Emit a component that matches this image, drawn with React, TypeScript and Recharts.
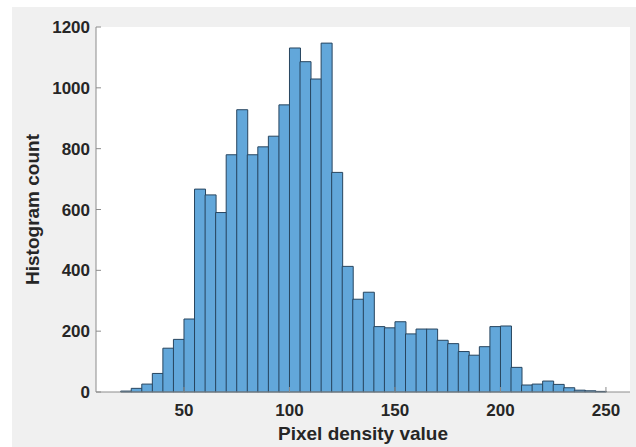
import React from 'react';
import { BarChart, Bar, XAxis, YAxis, Label } from 'recharts';

const binCenters = [
  22.5, 27.5, 32.5, 37.5, 42.5, 47.5, 52.5, 57.5, 62.5, 67.5,
  72.5, 77.5, 82.5, 87.5, 92.5, 97.5, 102.5, 107.5, 112.5, 117.5,
  122.5, 127.5, 132.5, 137.5, 142.5, 147.5, 152.5, 157.5, 162.5, 167.5,
  172.5, 177.5, 182.5, 187.5, 192.5, 197.5, 202.5, 207.5, 212.5, 217.5,
  222.5, 227.5, 232.5, 237.5, 242.5, 247.5,
];
const counts = [
  3, 12, 26, 61, 144, 173, 240, 667, 648, 590,
  780, 928, 780, 806, 841, 944, 1131, 1086, 1029, 1147,
  722, 413, 305, 328, 215, 211, 231, 191, 207, 207,
  170, 159, 133, 121, 149, 215, 217, 81, 23, 26,
  36, 25, 14, 6, 4, 2,
];
const xTicks = [50, 100, 150, 200, 250];
const yTicks = [0, 200, 400, 600, 800, 1000, 1200];

const data = binCenters.map((c, i) => ({ x: c, count: counts[i] }));

const FONT = '"Liberation Sans", Arial, Helvetica, sans-serif';
const TEXT = '#262626';
const AXIS = '#8c8c8c';

const BottomTick = (props: any) => {
  const { x, y, payload } = props;
  return (
    <g>
      <line x1={x} y1={y} x2={x} y2={y - 5} stroke={AXIS} strokeWidth={1} />
      <text x={x} y={y + 24} textAnchor="middle" fontFamily={FONT} fontWeight="bold" fontSize={17} fill={TEXT}>
        {payload.value}
      </text>
    </g>
  );
};
const TopTick = (props: any) => {
  const { x, y } = props;
  return <line x1={x} y1={y} x2={x} y2={y + 5} stroke={AXIS} strokeWidth={1} />;
};
const LeftTick = (props: any) => {
  const { x, y, payload } = props;
  return (
    <g>
      <line x1={x} y1={y} x2={x + 5} y2={y} stroke={AXIS} strokeWidth={1} />
      <text x={x - 6} y={y + 6} textAnchor="end" fontFamily={FONT} fontWeight="bold" fontSize={17} fill={TEXT}>
        {payload.value}
      </text>
    </g>
  );
};
const RightTick = (props: any) => {
  const { x, y } = props;
  return <line x1={x} y1={y} x2={x - 5} y2={y} stroke={AXIS} strokeWidth={1} />;
};

export default function App() {
  return (
    <div style={{ position: 'absolute', left: 0, top: 0, width: 636, height: 447, background: '#ffffff' }}>
      <div style={{ position: 'absolute', left: 12, top: 7, width: 624, height: 440, background: '#f0f0f0' }} />
      <div style={{ position: 'absolute', left: 0, top: 0 }}>
        <BarChart
          width={636}
          height={447}
          data={data}
          margin={{ top: 27, right: 6, bottom: 0, left: 0 }}
          barCategoryGap={0}
          barGap={0}
        >
          <rect x={96} y={27} width={534} height={365} fill="#ffffff" />
          <XAxis
            xAxisId="b"
            dataKey="x"
            type="number"
            domain={[8.3, 261.4]}
            ticks={xTicks}
            allowDataOverflow
            height={55}
            stroke={AXIS}
            tickLine={false}
            tickSize={0}
            tickMargin={0}
            tick={<BottomTick />}
            interval={0}
          >
            <Label
              content={(p: any) => {
                const vb = p.viewBox;
                return (
                  <text x={vb.x + vb.width / 2} y={vb.y + 48} textAnchor="middle" fontFamily={FONT} fontWeight="bold" fontSize={19} fill={TEXT}>
                    Pixel density value
                  </text>
                );
              }}
            />
          </XAxis>
          <XAxis
            xAxisId="t"
            dataKey="x"
            type="number"
            orientation="top"
            domain={[8.3, 261.4]}
            ticks={xTicks}
            allowDataOverflow
            height={0}
            stroke={AXIS}
            tickLine={false}
            tickSize={0}
            tickMargin={0}
            tick={<TopTick />}
            interval={0}
          />
          <YAxis
            yAxisId="l"
            type="number"
            domain={[0, 1200]}
            ticks={yTicks}
            width={96}
            stroke={AXIS}
            tickLine={false}
            tickSize={0}
            tickMargin={0}
            tick={<LeftTick />}
            interval={0}
          >
            <Label
              content={(p: any) => {
                const vb = p.viewBox;
                const cx = vb.x + 39;
                const cy = vb.y + vb.height / 2;
                return (
                  <text x={cx} y={cy} transform={`rotate(-90 ${cx} ${cy})`} textAnchor="middle" fontFamily={FONT} fontWeight="bold" fontSize={19} fill={TEXT}>
                    Histogram count
                  </text>
                );
              }}
            />
          </YAxis>
          <YAxis
            yAxisId="r"
            type="number"
            orientation="right"
            domain={[0, 1200]}
            ticks={yTicks}
            width={0}
            stroke={AXIS}
            tickLine={false}
            tickSize={0}
            tickMargin={0}
            tick={<RightTick />}
            interval={0}
          />
          <Bar
            xAxisId="b"
            yAxisId="l"
            dataKey="count"
            fill="#62a7da"
            stroke="#27455f"
            strokeWidth={1}
            isAnimationActive={false}
          />
        </BarChart>
      </div>
    </div>
  );
}
